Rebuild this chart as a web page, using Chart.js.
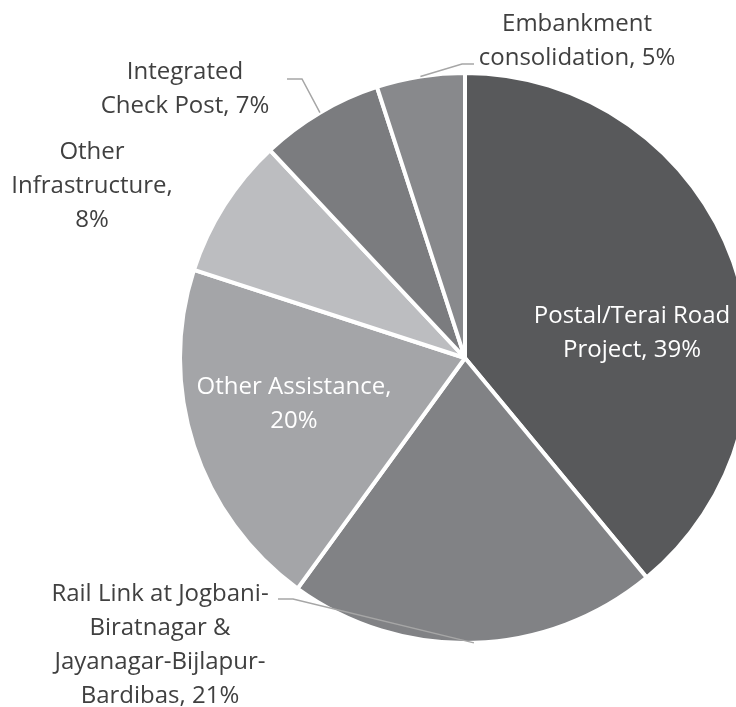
<!DOCTYPE html>
<html>
<head>
<meta charset="utf-8">
<script src="https://cdn.jsdelivr.net/npm/chart.js@4"></script>
<style>
  html, body { margin: 0; padding: 0; background: #fff; overflow: hidden; }
  #wrap { width: 736px; height: 707px; overflow: hidden; }
</style>
</head>
<body>
<div id="wrap"><canvas id="pieChart" width="760" height="707"></canvas></div>
<script>
const categories = [
    'Postal/Terai Road Project',
    'Rail Link at Jogbani-Biratnagar & Jayanagar-Bijlapur-Bardibas',
    'Other Assistance',
    'Other Infrastructure',
    'Integrated Check Post',
    'Embankment consolidation',
];
const shares = [39, 21, 20, 8, 7, 5];
const sliceColors = ['#58595b', '#818285', '#a4a5a8', '#bcbdc0', '#7b7c7f', '#88898c'];

// label block centre, relative to the pie centre
const labelOffsets = [[167, -25], [-305, 287], [-171, 46], [-373, -172], [-280, -269], [112, -317]];
const wrapWidths = [230, 245, 215, 180, 178, 225];
const insideLabel = [true, false, true, false, false, false];
// leader line: elbow x, elbow y, end x (relative to the pie centre)
const leaders = [null, [-172, 241, -187], null, null, [-163, -279, -178], [-3, -294, 9]];

const FONT = '24px "Open Sans"';
const LINE_H = 34;

function wrapText(ctx, text, maxWidth) {
    const tokens = text.split(/(?<= )|(?<=-)/);
    const lines = [];
    let line = '';
    tokens.forEach(tok => {
        const test = (line + tok).trimEnd();
        if (line && ctx.measureText(test).width > maxWidth) {
            lines.push(line.trimEnd());
            line = tok;
        } else {
            line += tok;
        }
    });
    if (line) lines.push(line.trimEnd());
    return lines;
}

const pieLabels = {
    id: 'pieLabels',
    afterDatasetsDraw(chart) {
        const ctx = chart.ctx;
        const arcs = chart.getDatasetMeta(0).data;
        ctx.save();
        ctx.font = FONT;
        ctx.textAlign = 'center';
        ctx.textBaseline = 'middle';
        arcs.forEach((arc, i) => {
            const cx = arc.x, cy = arc.y;
            const ld = leaders[i];
            if (ld) {
                const mid = (arc.startAngle + arc.endAngle) / 2;
                const r = arc.outerRadius;
                ctx.beginPath();
                ctx.moveTo(cx + Math.cos(mid) * r, cy + Math.sin(mid) * r);
                ctx.lineTo(cx + ld[0], cy + ld[1]);
                ctx.lineTo(cx + ld[2], cy + ld[1]);
                ctx.strokeStyle = '#a6a6a6';
                ctx.lineWidth = 1.5;
                ctx.stroke();
            }
            const lines = wrapText(ctx, categories[i] + ', ' + shares[i] + '%', wrapWidths[i]);
            const bx = cx + labelOffsets[i][0];
            const by = cy + labelOffsets[i][1] - (lines.length - 1) * LINE_H / 2;
            ctx.fillStyle = insideLabel[i] ? '#ffffff' : '#404040';
            lines.forEach((ln, k) => ctx.fillText(ln, bx, by + k * LINE_H));
        });
        ctx.restore();
    },
};

new Chart(document.getElementById('pieChart'), {
    type: 'pie',
    data: {
        labels: categories,
        datasets: [{
            data: shares,
            backgroundColor: sliceColors,
            borderColor: '#ffffff',
            borderWidth: 4,
        }],
    },
    options: {
        responsive: false,
        animation: false,
        layout: {
            padding: { top: 71, bottom: 62, left: 178, right: 8 },
        },
        plugins: {
            legend: { display: false },
            tooltip: { enabled: false },
        },
    },
    plugins: [pieLabels],
});
</script>
</body>
</html>
